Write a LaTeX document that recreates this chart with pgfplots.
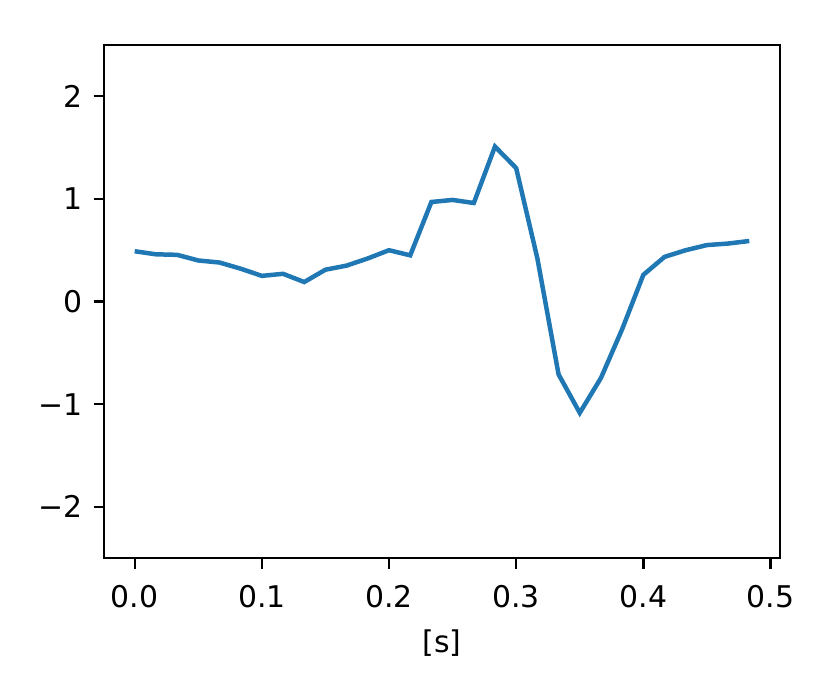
\documentclass[border=0pt]{standalone}
\usepackage{fontspec}
\setmainfont{DejaVu Sans}
\usepackage{pgfplots}
\pgfplotsset{compat=1.18}
\definecolor{mplblue}{HTML}{1F77B4}
\begin{document}
\begin{tikzpicture}
\begin{axis}[
  scale only axis,
  width=225.33bp, height=171bp,
  xmin=-0.02417, xmax=0.50750,
  ymin=-2.5, ymax=2.5,
  axis line style={line width=0.8pt},
  tick style={line width=0.8pt, black},
  tick align=outside,
  major tick length=3.5pt,
  xtick={0,0.1,0.2,0.3,0.4,0.5},
  xticklabels={0.0,0.1,0.2,0.3,0.4,0.5},
  ytick={-2,-1,0,1,2},
  yticklabels={−2,−1,0,1,2},
  xtick pos=bottom, ytick pos=left,
  tick label style={font=\fontsize{10}{12}\selectfont},
  xticklabel style={yshift=-2bp},
  label style={font=\fontsize{10}{12}\selectfont},
  xlabel={[s]},
  xlabel style={yshift=-0.5bp},
  clip=false,
]
\addplot[color=mplblue, line width=1.5pt] coordinates {
(0.00000,0.49) (0.01667,0.46) (0.03333,0.455) (0.05000,0.40) (0.06667,0.38)
(0.08333,0.32) (0.10000,0.25) (0.11667,0.27) (0.13333,0.19) (0.15000,0.31)
(0.16667,0.35) (0.18333,0.42) (0.20000,0.50) (0.21667,0.45) (0.23333,0.97)
(0.25000,0.99) (0.26667,0.96) (0.28333,1.51) (0.30000,1.30) (0.31667,0.42)
(0.33333,-0.71) (0.35000,-1.085) (0.36667,-0.745) (0.38333,-0.27) (0.40000,0.26)
(0.41667,0.435) (0.43333,0.50) (0.45000,0.55) (0.46667,0.565) (0.48333,0.59)
};
\path (rel axis cs:-0.1538,-0.2632) rectangle (rel axis cs:1.0754,1.0877);
\end{axis}
\end{tikzpicture}
\end{document}
